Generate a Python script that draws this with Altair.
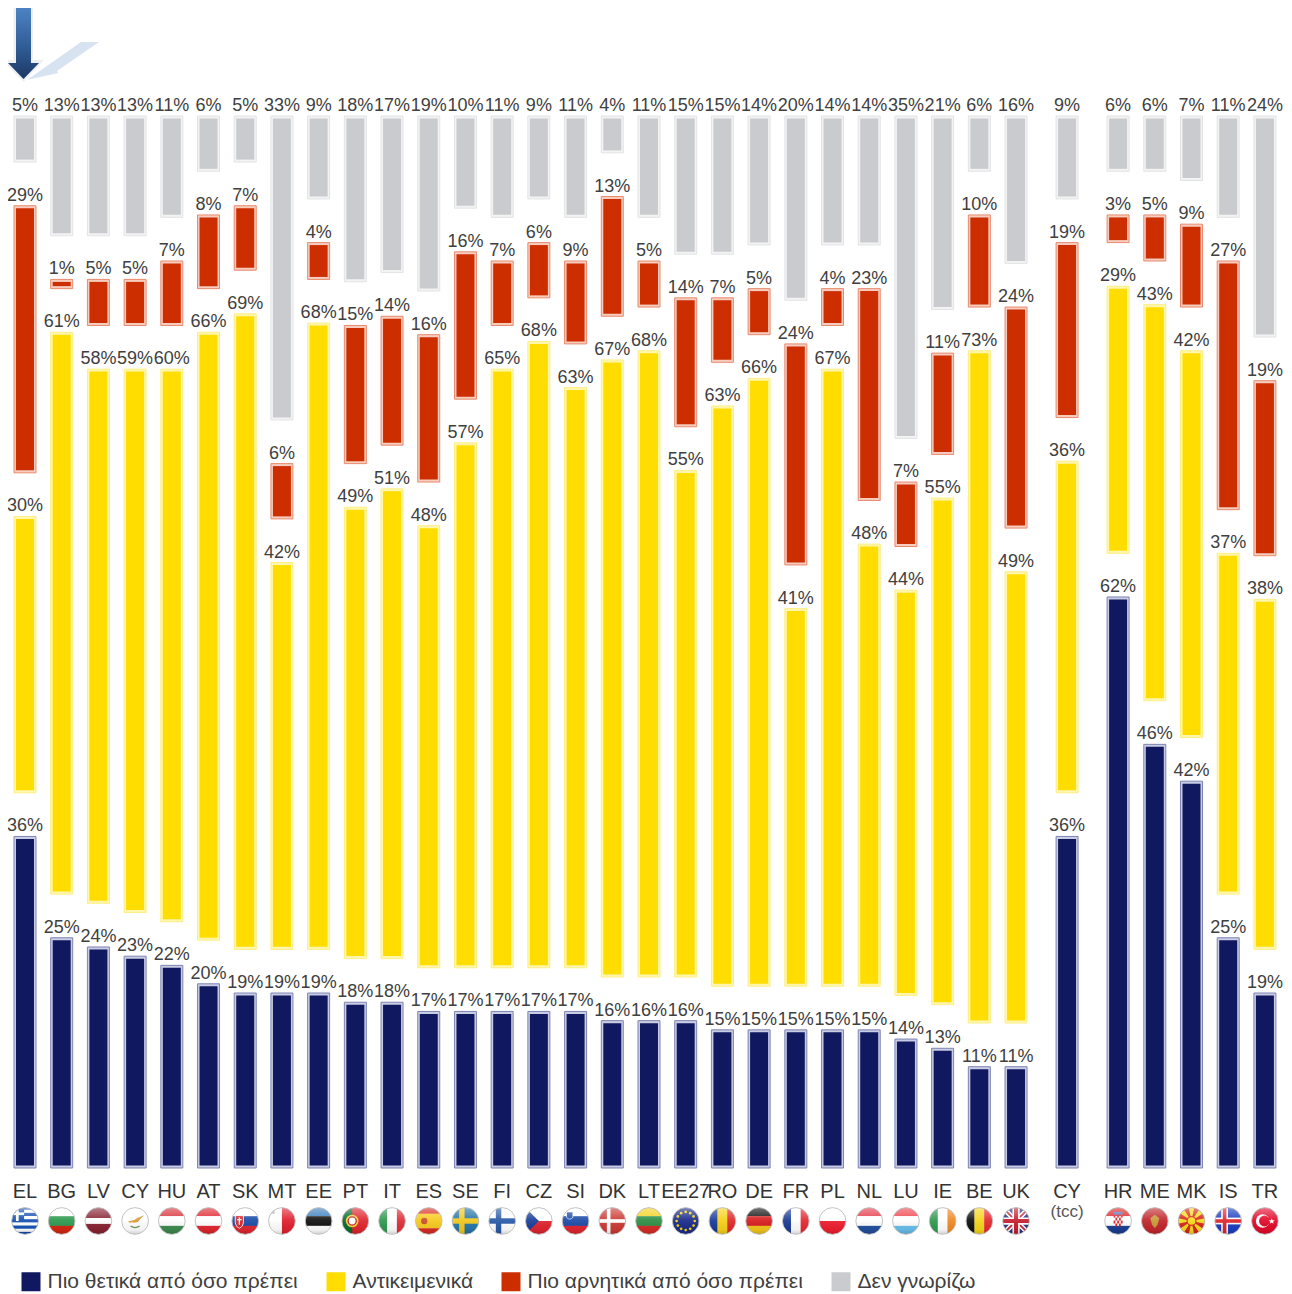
import base64
import math
import altair as alt
import pandas as pd

codes = ["EL","BG","LV","CY","HU","AT","SK","MT","EE","PT","IT","ES","SE","FI","CZ","SI","DK","LT","EE27","RO","DE","FR","PL","NL","LU","IE","BE","UK","CY","HR","ME","MK","IS","TR"]
positive = [36,25,24,23,22,20,19,19,19,18,18,17,17,17,17,17,16,16,16,15,15,15,15,15,14,13,11,11,36,62,46,42,25,19]
objective = [30,61,58,59,60,66,69,42,68,49,51,48,57,65,68,63,67,68,55,63,66,41,67,48,44,55,73,49,36,29,43,42,37,38]
negative = [29,1,5,5,7,8,7,6,4,15,14,16,16,7,6,9,13,5,14,7,5,24,4,23,7,11,10,24,19,3,5,9,27,19]
unknown = [5,13,13,13,11,6,5,33,9,18,17,19,10,11,9,11,4,11,15,15,14,20,14,14,35,21,6,16,9,6,6,7,11,24]
groups = [0]*28 + [1] + [2]*5

series_names = ["Πιο θετικά από όσο πρέπει", "Αντικειμενικά", "Πιο αρνητικά από όσο πρέπει", "Δεν γνωρίζω"]
series_colors = ["#10195F", "#FFDD00", "#CC2E00", "#CACBCE"]
ring_fill = ["#C9CCE2", "#FFF6B0", "#F6CDBE", "#F3F3F4"]
ring_line = ["#7D84B5", "#FFEE80", "#E98A6E", "#E2E3E5"]

GAP = 4.74
INSET = 0.27
GROUP_SHIFT = 0.39
FONT = "Liberation Sans"

slots = [i + GROUP_SHIFT * g for i, g in enumerate(groups)]

rows = []
for i, code in enumerate(codes):
    base = 0
    for k, vals in enumerate([positive, objective, negative, unknown]):
        v = vals[i]
        rows.append(dict(slot=slots[i], code=code, series=series_names[k], value=v,
                         label=f"{v}%", y0=base, y1=base + v,
                         y0i=base + INSET, y1i=base + v - INSET,
                         fill=ring_fill[k], line=ring_line[k]))
        base += v + GAP
df = pd.DataFrame(rows)


# ---------- small flag pictures ----------
def h(*cols, w=None):
    w = w or [1] * len(cols)
    t = sum(w); y = 0; s = ""
    for c, a in zip(cols, w):
        hh = 64 * a / t
        s += f'<rect x="0" y="{y}" width="64" height="{hh+0.3}" fill="{c}"/>'
        y += hh
    return s

def v(*cols):
    n = len(cols); s = ""
    for i, c in enumerate(cols):
        s += f'<rect y="0" x="{i*64/n}" width="{64/n+0.3}" height="64" fill="{c}"/>'
    return s

def cross(bg, c, wd=12, inner=None, iw=6):
    s = f'<rect width="64" height="64" fill="{bg}"/>'
    s += f'<rect x="{24-wd/2}" y="0" width="{wd}" height="64" fill="{c}"/><rect x="0" y="{32-wd/2}" width="64" height="{wd}" fill="{c}"/>'
    if inner:
        s += f'<rect x="{24-iw/2}" y="0" width="{iw}" height="64" fill="{inner}"/><rect x="0" y="{32-iw/2}" width="64" height="{iw}" fill="{inner}"/>'
    return s

def greece():
    s = '<rect width="64" height="64" fill="#1450B4"/>'
    for y in [7, 21, 35, 49]:
        s += f'<rect x="0" y="{y}" width="64" height="7" fill="#fff"/>'
    s += '<rect width="30" height="32" fill="#1450B4"/><rect x="12" width="6" height="32" fill="#fff"/><rect y="13" width="30" height="6" fill="#fff"/>'
    return s

def eu():
    s = '<rect width="64" height="64" fill="#1B2C8C"/>'
    for i in range(12):
        a = i * math.pi / 6
        s += f'<circle cx="{32+20*math.cos(a)}" cy="{32+20*math.sin(a)}" r="3" fill="#F5D200"/>'
    return s

def uk():
    return ('<rect width="64" height="64" fill="#27337E"/>'
            '<path d="M0 0L64 64M64 0L0 64" stroke="#fff" stroke-width="11"/>'
            '<path d="M0 0L64 64M64 0L0 64" stroke="#C8202F" stroke-width="4"/>'
            '<path d="M32 0V64M0 32H64" stroke="#fff" stroke-width="16"/>'
            '<path d="M32 0V64M0 32H64" stroke="#C8202F" stroke-width="9"/>')

def mk():
    s = '<rect width="64" height="64" fill="#D6281E"/>'
    for i in range(8):
        a = i * math.pi / 4
        s += (f'<path d="M32 32L{32+50*math.cos(a-0.2)} {32+50*math.sin(a-0.2)}'
              f'L{32+50*math.cos(a+0.2)} {32+50*math.sin(a+0.2)}Z" fill="#F7DC1E"/>')
    s += '<circle cx="32" cy="32" r="11" fill="#D6281E"/><circle cx="32" cy="32" r="8.5" fill="#F7DC1E"/>'
    return s

def tr():
    return ('<rect width="64" height="64" fill="#E30A2B"/><circle cx="27" cy="32" r="15" fill="#fff"/>'
            '<circle cx="31" cy="32" r="12" fill="#E30A2B"/>'
            '<path d="M47 26l1.8 4.6 5-.2-3.9 3.1 1.4 4.8-4.3-2.8-4.1 2.8 1.3-4.8-3.9-3.1 5 .2z" fill="#fff"/>')

def hr():
    s = h("#E2262B", "#fff", "#1C3F94")
    for r in range(4):
        for c in range(5):
            if (r + c) % 2 == 0:
                s += f'<rect x="{22+c*4}" y="{18+r*6.5}" width="4" height="6.5" fill="#D8262C"/>'
    s += '<rect x="22" y="12" width="20" height="6" fill="#5577BB"/>'
    return s

FLAGS = {
    0: greece(),
    1: h("#fff", "#2E9A50", "#D62612"),
    2: h("#8A2433", "#fff", "#8A2433", w=[2, 1, 2]),
    3: '<rect width="64" height="64" fill="#fff"/><path d="M16 33l14-3 8-5 14-6-9 9-5 6-8 2-6-1-4 1z" fill="#DE9B34"/><path d="M22 43q10 7 20 0" stroke="#6E9A5A" stroke-width="3" fill="none"/>',
    4: h("#D8323A", "#fff", "#3E8A50"),
    5: h("#E0262F", "#fff", "#E0262F"),
    6: h("#fff", "#1C4BA8", "#E0262F") + '<path d="M10 20h18v16q-1 9-9 12q-8-3-9-12z" fill="#D8262C" stroke="#fff" stroke-width="2"/><path d="M19 24v16M14 29h10" stroke="#fff" stroke-width="3"/>',
    7: '<rect width="64" height="64" fill="#fff"/><rect x="32" width="32" height="64" fill="#E0202E"/><rect x="8" y="8" width="8" height="8" fill="#B9B9B9"/>',
    8: h("#3A7FC0", "#111", "#fff"),
    9: '<rect width="64" height="64" fill="#E0262F"/><rect width="25" height="64" fill="#0A6B2E"/><circle cx="25" cy="32" r="14" fill="#F5D23A"/><circle cx="25" cy="32" r="9" fill="#fff" stroke="#C8202F" stroke-width="3"/>',
    10: v("#2F9A50", "#fff", "#E0303A"),
    11: h("#DA2E22", "#F7CB1E", "#DA2E22", w=[1, 2, 1]) + '<circle cx="22" cy="32" r="7" fill="#C8502A"/>',
    12: cross("#2576A8", "#F2C81E"),
    13: cross("#fff", "#2A5AA8"),
    14: h("#fff", "#E0262F") + '<path d="M0 0L32 32L0 64Z" fill="#1D3F9A"/>',
    15: h("#fff", "#1C4BA8", "#E0262F") + '<path d="M12 12h14v12q-7 8-14 0z" fill="#1C4BA8" stroke="#fff" stroke-width="1.5"/>',
    16: cross("#CC3B35", "#fff", wd=8),
    17: h("#F4D21E", "#2F8F45", "#D62C26"),
    18: eu(),
    19: v("#1A3C9A", "#F7D218", "#DF2B2A"),
    20: h("#111", "#D81E20", "#F2C71A"),
    21: v("#1C3C94", "#fff", "#E62A34"),
    22: h("#fff", "#EE2030"),
    23: h("#E63A4A", "#fff", "#24509E"),
    24: h("#F0454F", "#fff", "#68BFEA"),
    25: v("#2F9A50", "#fff", "#F08A24"),
    26: v("#111", "#F5D518", "#E62A2E"),
    27: uk(),
    28: None,
    29: hr(),
    30: '<rect width="64" height="64" fill="#C2272D"/><path d="M32 18l10 8-4 14-6 8-6-8-4-14z" fill="#C99A3A"/>',
    31: mk(),
    32: cross("#1D3FC0", "#fff", wd=15, inner="#E0262F", iw=8),
    33: tr(),
}

def flag_uri(body):
    svg = ('<svg xmlns="http://www.w3.org/2000/svg" viewBox="0 0 64 64" width="64" height="64">'
           '<defs><clipPath id="c"><circle cx="32" cy="32" r="29"/></clipPath>'
           '<linearGradient id="g" x1="0" y1="0" x2="0" y2="1">'
           '<stop offset="0" stop-color="#fff" stop-opacity=".45"/><stop offset=".45" stop-color="#fff" stop-opacity=".08"/>'
           '<stop offset=".8" stop-color="#000" stop-opacity=".05"/><stop offset="1" stop-color="#000" stop-opacity=".22"/>'
           '</linearGradient></defs>'
           f'<g clip-path="url(#c)">{body}<rect width="64" height="64" fill="url(#g)"/></g>'
           '<circle cx="32" cy="32" r="29.5" fill="none" stroke="#BDBDBD" stroke-width="2"/></svg>')
    return "data:image/svg+xml;base64," + base64.b64encode(svg.encode()).decode()

arrow_svg = ('<svg xmlns="http://www.w3.org/2000/svg" viewBox="0 0 100 84" width="100" height="84">'
             '<defs><linearGradient id="a" x1="0" y1="0" x2="0" y2="1">'
             '<stop offset="0" stop-color="#4F86C6"/><stop offset=".6" stop-color="#2E5A94"/><stop offset="1" stop-color="#1C3763"/>'
             '</linearGradient></defs>'
             '<path d="M81 42H99L57 71L58 73L27 80Z" fill="#D8E3F2"/>'
             '<path d="M13.5 3H33V60H44L23.5 82L2 60H13.5Z" fill="#EEEFF2"/>'
             '<path d="M16 5H31V63H39L23.5 79L8 63H16Z" fill="url(#a)"/></svg>')
arrow_uri = "data:image/svg+xml;base64," + base64.b64encode(arrow_svg.encode()).decode()

flag_rows = [dict(slot=slots[i], url=flag_uri(b)) for i, b in FLAGS.items() if b]
flags_df = pd.DataFrame(flag_rows)
codes_df = pd.DataFrame({"slot": slots, "code": codes})
tcc_df = pd.DataFrame({"slot": [slots[28]], "t": ["(tcc)"]})
arrow_df = pd.DataFrame({"url": [arrow_uri]})

W, H = 1276, 1286
xs = alt.Scale(domain=[-0.463, 34.3], nice=False, zero=False, padding=0)
ys = alt.Scale(domain=[-13.68, 125.95], nice=False, zero=False, padding=0)
X = alt.X("slot:Q", scale=xs, axis=None)

base = alt.Chart(df)
outer = base.mark_bar(size=22, strokeWidth=1).encode(
    x=X,
    y=alt.Y("y0:Q", scale=ys, axis=None),
    y2="y1:Q",
    fill=alt.Fill("fill:N", scale=None, legend=None),
    stroke=alt.Stroke("line:N", scale=None, legend=None),
)
inner = base.mark_bar(size=18).encode(
    x=X,
    y=alt.Y("y0i:Q", scale=ys, axis=None),
    y2="y1i:Q",
    color=alt.Color("series:N",
                    scale=alt.Scale(domain=series_names, range=series_colors),
                    legend=alt.Legend(title=None, orient="none", direction="horizontal", columns=4,
                                      legendX=12.5, legendY=1263, symbolType="square", symbolSize=361,
                                      symbolStrokeWidth=0, labelFontSize=21, labelFont=FONT,
                                      labelColor="#404040", labelOffset=6, columnPadding=27,
                                      labelLimit=400, padding=0)),
)
values = base.mark_text(font=FONT, fontSize=18, color="#404040", baseline="bottom", dy=-1).encode(
    x=X,
    y=alt.Y("y1:Q", scale=ys, axis=None),
    text="label:N",
)
code_text = alt.Chart(codes_df).mark_text(font=FONT, fontSize=20, color="#333333", baseline="middle").encode(
    x=X, y=alt.value(1184), text="code:N"
)
tcc_text = alt.Chart(tcc_df).mark_text(font=FONT, fontSize=17, color="#555555", baseline="middle").encode(
    x=X, y=alt.value(1204), text="t:N"
)
flag_marks = alt.Chart(flags_df).mark_image(width=29, height=29).encode(
    x=X, y=alt.value(1213), url="url:N"
)
arrow = alt.Chart(arrow_df).mark_image(width=100, height=84, align="left", baseline="top").encode(
    x=alt.value(-8), y=alt.value(-8), url="url:N"
)

chart = alt.layer(outer, inner, values, code_text, tcc_text, flag_marks, arrow).properties(
    width=W, height=H, padding=0, autosize=alt.AutoSizeParams(type="none"),
    background="white",
).configure_view(stroke=None)

chart.save("out.html", embed_options={"renderer": "svg", "actions": False})
